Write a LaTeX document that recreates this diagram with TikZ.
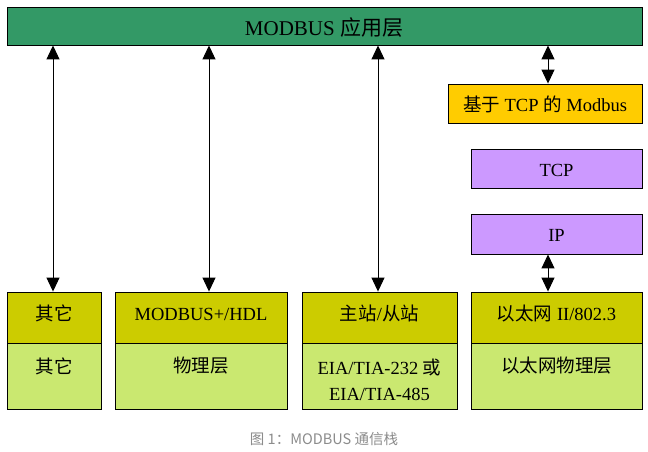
\documentclass[tikz,border=0pt]{standalone}
\usepackage{fontspec}
\setmainfont{Liberation Serif}
\newfontfamily\cjk{Noto Sans CJK SC}
\newfontfamily\capfont{Noto Sans CJK SC}
\usetikzlibrary{arrows.meta}
\definecolor{appgreen}{RGB}{51,153,102}
\definecolor{tcporange}{RGB}{255,204,0}
\definecolor{netpurple}{RGB}{204,153,255}
\definecolor{linkolive}{RGB}{204,204,0}
\definecolor{phylime}{RGB}{202,232,112}
\definecolor{capgray}{RGB}{140,140,140}
\tikzset{
  layerbox/.style={draw=black, line width=0.9pt, inner sep=0pt},
  boxtext/.style={inner sep=0pt, font=\fontsize{18.5}{22}\selectfont},
  toptext/.style={inner sep=0pt, font=\fontsize{21}{25}\selectfont},
  biarrow/.style={line width=1pt, {Triangle[width=13pt,length=14pt]}-{Triangle[width=13pt,length=14pt]}},
}
\begin{document}
\begin{tikzpicture}[x=1pt,y=-1pt]
\useasboundingbox[fill=white] (0,0) rectangle (648,451);

% top bar
\node[layerbox, fill=appgreen, minimum width=635pt, minimum height=38pt] (app) at (324.5,26) {};
\node[toptext] (apptxt) at (324,28) {MODBUS {\cjk 应用层}};

% TCP/IP stack
\node[layerbox, fill=tcporange, minimum width=194pt, minimum height=39pt] (mbtcp) at (545,103.5) {};
\node[boxtext] (mbtcptxt) at (545,104) {{\cjk 基于} TCP {\cjk 的} Modbus};
\node[layerbox, fill=netpurple, minimum width=171pt, minimum height=39pt] (tcp) at (556.5,168.5) {};
\node[boxtext] (tcptxt) at (556.5,170) {TCP};
\node[layerbox, fill=netpurple, minimum width=171pt, minimum height=40pt] (ip) at (556.5,234) {};
\node[boxtext] (iptxt) at (556.5,235.5) {IP};

% bottom boxes: top row
\node[layerbox, fill=linkolive, minimum width=94pt, minimum height=51pt] (l1) at (54,317.5) {};
\node[layerbox, fill=linkolive, minimum width=172pt, minimum height=51pt] (l2) at (201,317.5) {};
\node[layerbox, fill=linkolive, minimum width=155pt, minimum height=51pt] (l3) at (379.5,317.5) {};
\node[layerbox, fill=linkolive, minimum width=171pt, minimum height=51pt] (l4) at (556.5,317.5) {};
% bottom boxes: bottom row
\node[layerbox, fill=phylime, minimum width=94pt, minimum height=66pt] (p1) at (54,376) {};
\node[layerbox, fill=phylime, minimum width=172pt, minimum height=66pt] (p2) at (201,376) {};
\node[layerbox, fill=phylime, minimum width=155pt, minimum height=66pt] (p3) at (379.5,376) {};
\node[layerbox, fill=phylime, minimum width=171pt, minimum height=66pt] (p4) at (556.5,376) {};

% texts
\node[boxtext] (l1txt) at (54,313.5) {\cjk 其它};
\node[boxtext] (l2txt) at (201,314.5) {MODBUS+/HDL};
\node[boxtext] (l3txt) at (379.5,313.5) {{\cjk 主站}/{\cjk 从站}};
\node[boxtext] (l4txt) at (556.5,313.5) {{\cjk 以太网} II/802.3};
\node[boxtext] (p1txt) at (54,366) {\cjk 其它};
\node[boxtext] (p2txt) at (201,366) {\cjk 物理层};
\node[boxtext] (p3txta) at (379.5,367) {EIA/TIA-232 {\cjk 或}};
\node[boxtext] (p3txtb) at (379.5,394) {EIA/TIA-485};
\node[boxtext] (p4txt) at (556.5,366) {\cjk 以太网物理层};

% arrow positions
\coordinate (a1) at (53,0);
\coordinate (a2) at (209,0);
\coordinate (a3) at (378,0);
\coordinate (a4) at (548,0);

\draw[biarrow] (app.south -| a1) -- (l1.north -| a1);
\draw[biarrow] (app.south -| a2) -- (l2.north -| a2);
\draw[biarrow] (app.south -| a3) -- (l3.north -| a3);
\draw[biarrow] (app.south -| a4) -- (mbtcp.north -| a4);
\draw[biarrow] (ip.south -| a4) -- (l4.north -| a4);

% caption
\node[inner sep=0pt, text=capgray, font=\capfont\fontsize{14.5}{16}\selectfont] (caption) at (324,439) {图 1：MODBUS 通信栈};
\end{tikzpicture}
\end{document}
